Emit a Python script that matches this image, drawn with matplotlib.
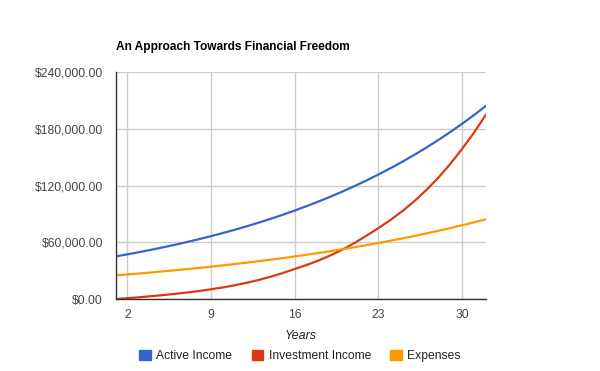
import matplotlib
matplotlib.use('Agg')

import matplotlib.pyplot as plt
from matplotlib.patches import Patch
from matplotlib.ticker import FuncFormatter

# ==========================
# Data
# ==========================
years = list(range(1, 33))

active_income = [45000, 47250, 49613, 52093, 54698, 57433, 60304, 63320,
                 66486, 69810, 73300, 76965, 80814, 84854, 89097, 93552,
                 98230, 103141, 108298, 113713, 119399, 125369, 131637, 138219,
                 145130, 152387, 160006, 168006, 176407, 185227, 194489, 204213]

investment_income = [0, 900, 1900, 3000, 4200, 5500, 6900, 8500,
                     10300, 12300, 14600, 17250, 20250, 23650, 27500, 31800,
                     36000, 40800, 46200, 52300, 59200, 67000, 75000, 83500,
                     92900, 103400, 115100, 128100, 142600, 158700, 176000, 195000]

expenses = [25000, 26000, 27040, 28122, 29246, 30416, 31633, 32898,
            34214, 35583, 37006, 38486, 40026, 41627, 43292, 45024,
            46825, 48698, 50645, 52671, 54778, 56969, 59248, 61618,
            64083, 66646, 69312, 72085, 74968, 77967, 81085, 84329]

series_names = ["Active Income", "Investment Income", "Expenses"]
colors = ["#3366CC", "#DC3912", "#FF9900"]

x_ticks = [2, 9, 16, 23, 30]
y_ticks = [0, 60000, 120000, 180000, 240000]

plt.rcParams['font.family'] = ['Liberation Sans', 'DejaVu Sans']

# ==========================
# Figure
# ==========================
fig = plt.figure(figsize=(6, 3.71), dpi=100)
ax = fig.add_axes([0.1925, 0.194, 0.6175, 0.612])

for vals, name, col in zip([active_income, investment_income, expenses], series_names, colors):
    ax.plot(years, vals, color=col, linewidth=1.6, label=name, solid_capstyle='round')

ax.set_xlim(1, 32)
ax.set_ylim(0, 240000)
ax.set_xticks(x_ticks)
ax.set_yticks(y_ticks)
ax.yaxis.set_major_formatter(FuncFormatter(lambda v, p: f"${v:,.2f}"))

ax.grid(True, color="#cccccc", linewidth=1)
ax.set_axisbelow(True)
ax.tick_params(length=0, labelsize=8.7, labelcolor="#444444")
ax.tick_params(axis='y', pad=9)
ax.tick_params(axis='x', pad=7)

for side in ["top", "right"]:
    ax.spines[side].set_visible(False)
for side in ["left", "bottom"]:
    ax.spines[side].set_color("#333333")
    ax.spines[side].set_linewidth(1)

ax.set_xlabel("Years", fontsize=9, style="italic", color="#222222", labelpad=7)

fig.text(116 / 600, 1 - 47 / 371, "An Approach Towards Financial Freedom",
         fontsize=8.6, fontweight="bold", color="black", ha="left", va="center")

handles = [Patch(facecolor=c, edgecolor=c) for c in colors]
fig.legend(handles, series_names, loc="center", bbox_to_anchor=(300 / 600, 1 - 356 / 371),
           ncol=3, frameon=False, fontsize=8.7, handlelength=0.95, handleheight=0.95,
           handletextpad=0.45, columnspacing=1.6, labelcolor="#222222")

fig.savefig("out.png", dpi=100)
plt.close(fig)
